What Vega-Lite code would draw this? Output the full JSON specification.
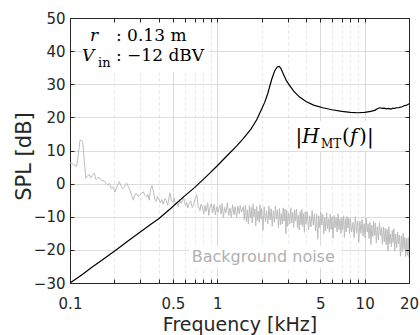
{
"$schema":"https://vega.github.io/schema/vega-lite/v6.json",
"width":339,"height":265,
"autosize":{"type":"none"},
"padding":{"left":70,"top":18,"right":11,"bottom":52},
"background":"white",
"config":{"view":{"stroke":"#262626","strokeWidth":1},"font":"DejaVu Sans"},
"datasets":{
"hmt":[{"f":0.1,"v":-30},{"f":0.12,"v":-27.6},{"f":0.14,"v":-25.3},{"f":0.16,"v":-23.5},{"f":0.2,"v":-20.4},{"f":0.25,"v":-17.2},{"f":0.3,"v":-14.6},{"f":0.35,"v":-12.4},{"f":0.4,"v":-10.6},{"f":0.48,"v":-7.6},{"f":0.59,"v":-4.0},{"f":0.7,"v":-1.2},{"f":0.8,"v":1.2},{"f":0.9,"v":3.4},{"f":1.0,"v":5.4},{"f":1.15,"v":8.2},{"f":1.35,"v":11.3},{"f":1.5,"v":13.6},{"f":1.7,"v":16.6},{"f":1.85,"v":19.3},{"f":2.0,"v":22.5},{"f":2.1,"v":24.6},{"f":2.2,"v":27.2},{"f":2.34,"v":31.5},{"f":2.45,"v":34.0},{"f":2.55,"v":35.2},{"f":2.63,"v":35.4},{"f":2.7,"v":34.8},{"f":2.8,"v":33.2},{"f":2.95,"v":31.0},{"f":3.1,"v":29.6},{"f":3.3,"v":27.9},{"f":3.6,"v":26.2},{"f":4.0,"v":24.8},{"f":4.5,"v":23.7},{"f":5.2,"v":22.9},{"f":6.0,"v":22.3},{"f":7.0,"v":21.8},{"f":8.0,"v":21.5},{"f":9.0,"v":21.4},{"f":10.0,"v":21.5},{"f":11.0,"v":21.8},{"f":11.8,"v":22.2},{"f":12.2,"v":22.6},{"f":12.6,"v":22.9},{"f":13.2,"v":22.7},{"f":13.6,"v":22.8},{"f":14.0,"v":22.6},{"f":14.5,"v":22.7},{"f":15.0,"v":22.5},{"f":15.5,"v":22.7},{"f":16.0,"v":22.7},{"f":16.5,"v":22.9},{"f":17.0,"v":22.9},{"f":17.5,"v":23.1},{"f":18.0,"v":23.2},{"f":18.5,"v":23.5},{"f":19.0,"v":23.6},{"f":19.5,"v":23.8},{"f":20.0,"v":24.1}],
"noise":[{"f":0.1,"v":6.3},{"f":0.104,"v":5.9},{"f":0.108,"v":5.5},{"f":0.111,"v":5.2},{"f":0.114,"v":9},{"f":0.117,"v":13.2},{"f":0.12,"v":13.0},{"f":0.122,"v":12.6},{"f":0.125,"v":7},{"f":0.128,"v":1.6},{"f":0.131,"v":2.2},{"f":0.135,"v":2.8},{"f":0.138,"v":1.7},{"f":0.142,"v":2.5},{"f":0.146,"v":3.2},{"f":0.15,"v":1.2},{"f":0.155,"v":1.9},{"f":0.16,"v":1.6},{"f":0.165,"v":0.8},{"f":0.17,"v":0.9},{"f":0.175,"v":0.2},{"f":0.18,"v":-0.5},{"f":0.185,"v":0.1},{"f":0.19,"v":-1.4},{"f":0.196,"v":-1.0},{"f":0.202,"v":-2.5},{"f":0.208,"v":-1.0},{"f":0.216,"v":0.6},{"f":0.222,"v":-0.8},{"f":0.228,"v":-1.6},{"f":0.236,"v":-0.6},{"f":0.243,"v":0.1},{"f":0.25,"v":-1.2},{"f":0.255,"v":-2.0},{"f":0.262,"v":-3.5},{"f":0.269,"v":-5.0},{"f":0.276,"v":-3.2},{"f":0.282,"v":-3.0},{"f":0.29,"v":-3.8},{"f":0.3,"v":-3.4},{"f":0.308,"v":-2.8},{"f":0.315,"v":-2.5},{"f":0.323,"v":-3.6},{"f":0.332,"v":-4.0},{"f":0.338,"v":-3.2},{"f":0.345,"v":-5.0},{"f":0.352,"v":-1.8},{"f":0.36,"v":-0.6},{"f":0.368,"v":-2.2},{"f":0.376,"v":-4.6},{"f":0.385,"v":-5.4},{"f":0.393,"v":-3.8},{"f":0.4,"v":-4.6},{"f":0.41,"v":-5.8},{"f":0.42,"v":-4.8},{"f":0.43,"v":-6.2},{"f":0.44,"v":-4.5},{"f":0.45,"v":-5.0},{"f":0.46,"v":-6.5},{"f":0.477,"v":-2.8},{"f":0.488,"v":-5.2},{"f":0.5,"v":-5.6},{"f":0.51,"v":-4.4},{"f":0.52,"v":-6.4},{"f":0.53,"v":-5.6},{"f":0.542,"v":-7.0},{"f":0.555,"v":-4.8},{"f":0.567,"v":-6.0},{"f":0.578,"v":-5.2},{"f":0.588,"v":-3.8},{"f":0.6,"v":-5.8},{"f":0.61,"v":-6.6},{"f":0.619,"v":-5.6},{"f":0.63,"v":-7.4},{"f":0.645,"v":-6.0},{"f":0.66,"v":-5.2},{"f":0.675,"v":-7.2},{"f":0.69,"v":-6.4},{"f":0.705,"v":-4.6},{"f":0.725,"v":-3.4},{"f":0.74,"v":-6.6},{"f":0.762,"v":-8.2},{"f":0.775,"v":-6.2},{"f":0.79,"v":-7.0},{"f":0.81,"v":-9.2},{"f":0.825,"v":-6.6},{"f":0.84,"v":-8.4},{"f":0.86,"v":-5.8},{"f":0.875,"v":-9.6},{"f":0.89,"v":-7.4},{"f":0.91,"v":-6.0},{"f":0.93,"v":-8.8},{"f":0.95,"v":-6.2},{"f":0.97,"v":-9.4},{"f":0.99,"v":-7.0},{"f":1.01,"v":-8.6},{"f":1.04,"v":-6.4},{"f":1.06,"v":-9.2},{"f":1.08,"v":-6.0},{"f":1.1,"v":-10.4},{"f":1.12,"v":-7.2},{"f":1.145,"v":-8.8},{"f":1.17,"v":-5.8},{"f":1.195,"v":-9.6},{"f":1.22,"v":-7.4},{"f":1.245,"v":-10.2},{"f":1.27,"v":-6.4},{"f":1.3,"v":-9.4},{"f":1.32,"v":-7.0},{"f":1.35,"v":-10.0},{"f":1.38,"v":-6.8},{"f":1.41,"v":-9.2},{"f":1.43,"v":-6.6},{"f":1.46,"v":-8.6},
{"f":1.5,"v":-7.0},{"f":1.525,"v":-10.9},{"f":1.55,"v":-6.5},{"f":1.575,"v":-11.5},{"f":1.6,"v":-7.9},{"f":1.625,"v":-12.2},{"f":1.65,"v":-6.7},{"f":1.675,"v":-10.3},{"f":1.7,"v":-7.2},{"f":1.725,"v":-11.9},{"f":1.75,"v":-6.2},{"f":1.775,"v":-10.0},{"f":1.8,"v":-7.6},{"f":1.825,"v":-12.7},{"f":1.85,"v":-6.9},{"f":1.875,"v":-11.1},{"f":1.9,"v":-8.3},{"f":1.925,"v":-11.7},{"f":1.95,"v":-6.4},{"f":1.975,"v":-10.6},
{"f":2.0,"v":-7.5},{"f":2.04,"v":-14.1},{"f":2.08,"v":-7.0},{"f":2.12,"v":-11.5},{"f":2.16,"v":-8.2},{"f":2.2,"v":-12.2},{"f":2.24,"v":-6.8},{"f":2.28,"v":-10.9},{"f":2.32,"v":-7.6},{"f":2.36,"v":-12.9},{"f":2.4,"v":-8.2},{"f":2.44,"v":-11.7},{"f":2.48,"v":-6.8},{"f":2.52,"v":-10.6},{"f":2.56,"v":-7.9},{"f":2.6,"v":-13.4},{"f":2.64,"v":-7.5},{"f":2.68,"v":-12.4},{"f":2.72,"v":-9.0},{"f":2.76,"v":-12.2},{"f":2.8,"v":-7.3},{"f":2.84,"v":-11.3},{"f":2.88,"v":-7.7},{"f":2.92,"v":-15.1},{"f":2.96,"v":-8.0},
{"f":3.0,"v":-12.9},{"f":3.05,"v":-8.9},{"f":3.1,"v":-12.2},{"f":3.15,"v":-7.3},{"f":3.2,"v":-11.9},{"f":3.25,"v":-8.6},{"f":3.3,"v":-13.2},{"f":3.35,"v":-7.9},{"f":3.4,"v":-11.3},{"f":3.45,"v":-7.7},{"f":3.5,"v":-13.3},{"f":3.55,"v":-9.5},{"f":3.6,"v":-14.0},{"f":3.65,"v":-8.4},{"f":3.7,"v":-12.4},{"f":3.75,"v":-7.8},{"f":3.8,"v":-12.9},{"f":3.85,"v":-9.0},{"f":3.9,"v":-14.7},{"f":3.95,"v":-8.5},
{"f":4.0,"v":-12.2},{"f":4.08,"v":-8.5},{"f":4.16,"v":-14.0},{"f":4.24,"v":-9.7},{"f":4.32,"v":-13.1},{"f":4.4,"v":-8.1},{"f":4.48,"v":-12.5},{"f":4.56,"v":-9.1},{"f":4.64,"v":-14.2},{"f":4.72,"v":-9.1},{"f":4.8,"v":-16.8},{"f":4.88,"v":-9.7},{"f":4.96,"v":-13.3},{"f":5.04,"v":-8.7},{"f":5.12,"v":-12.5},{"f":5.2,"v":-9.3},{"f":5.28,"v":-15.1},{"f":5.36,"v":-10.3},{"f":5.44,"v":-14.3},{"f":5.52,"v":-8.8},{"f":5.6,"v":-13.5},{"f":5.68,"v":-10.6},{"f":5.76,"v":-14.7},{"f":5.84,"v":-9.2},{"f":5.92,"v":-13.8},
{"f":6.0,"v":-10.0},{"f":6.1,"v":-16.5},{"f":6.2,"v":-9.6},{"f":6.3,"v":-13.3},{"f":6.4,"v":-10.3},{"f":6.5,"v":-14.6},{"f":6.6,"v":-9.1},{"f":6.7,"v":-13.9},{"f":6.8,"v":-10.6},{"f":6.9,"v":-15.1},{"f":7.0,"v":-10.2},{"f":7.1,"v":-13.8},{"f":7.2,"v":-9.7},{"f":7.3,"v":-16.2},{"f":7.4,"v":-10.6},{"f":7.5,"v":-14.6},{"f":7.6,"v":-9.9},{"f":7.7,"v":-13.4},{"f":7.8,"v":-10.5},{"f":7.9,"v":-15.1},
{"f":8.0,"v":-10.5},{"f":8.16,"v":-14.6},{"f":8.32,"v":-11.7},{"f":8.48,"v":-16.3},{"f":8.64,"v":-10.0},{"f":8.8,"v":-14.9},{"f":8.96,"v":-11.2},{"f":9.12,"v":-17.7},{"f":9.28,"v":-11.3},{"f":9.44,"v":-15.0},{"f":9.6,"v":-10.8},{"f":9.76,"v":-15.8},{"f":9.92,"v":-12.1},{"f":10.08,"v":-16.4},{"f":10.24,"v":-10.4},{"f":10.4,"v":-14.6},{"f":10.56,"v":-12.1},{"f":10.72,"v":-16.6},{"f":10.88,"v":-11.7},{"f":11.04,"v":-18.4},{"f":11.2,"v":-12.6},{"f":11.36,"v":-16.0},{"f":11.52,"v":-11.4},{"f":11.68,"v":-15.6},{"f":11.84,"v":-11.9},
{"f":12.0,"v":-17.9},{"f":12.2,"v":-13.0},{"f":12.4,"v":-17.0},{"f":12.6,"v":-11.8},{"f":12.8,"v":-15.6},{"f":13.0,"v":-13.3},{"f":13.2,"v":-18.3},{"f":13.4,"v":-13.1},{"f":13.6,"v":-17.6},{"f":13.8,"v":-13.5},{"f":14.0,"v":-18.4},{"f":14.2,"v":-13.8},{"f":14.4,"v":-20.4},{"f":14.6,"v":-13.0},{"f":14.8,"v":-18.1},{"f":15.0,"v":-15.2},{"f":15.2,"v":-19.0},{"f":15.4,"v":-14.1},{"f":15.6,"v":-17.8},{"f":15.8,"v":-13.6},
{"f":16.0,"v":-20.4},{"f":16.25,"v":-15.2},{"f":16.5,"v":-19.3},{"f":16.75,"v":-14.6},{"f":17.0,"v":-18.2},{"f":17.25,"v":-15.5},{"f":17.5,"v":-21.9},{"f":17.75,"v":-15.8},{"f":18.0,"v":-20.5},{"f":18.25,"v":-15.0},{"f":18.5,"v":-19.8},{"f":18.75,"v":-16.3},{"f":19.0,"v":-22.0},{"f":19.25,"v":-16.6},{"f":19.5,"v":-21.6},{"f":19.75,"v":-16.3},{"f":20.0,"v":-22.3}],
"boxes":[{"f":0.1225,"f2":0.878,"v":49.6,"v2":33.8},{"f":3.16,"f2":11.2,"v":18.9,"v2":9.85},{"f":0.642,"f2":6.92,"v":-18.8,"v2":-25.5}],
"it17":[{"t":"r","f":0.1367,"v":43.18},{"t":"V","f":0.1206,"v":37.14}],
"rm17":[{"t":": 0.13 m","f":0.2052,"v":43.18},{"t":": −12 dBV","f":0.2052,"v":37.14}],
"sub13":[{"t":"in","f":0.1549,"v":35.2}],
"it20":[{"t":"H","f":3.76,"v":12.3},{"t":"f","f":7.96,"v":12.3}],
"rm20":[{"t":"|","f":3.39,"v":12.3},{"t":"(","f":7.02,"v":12.3},{"t":")","f":9.16,"v":12.3},{"t":"|","f":10.38,"v":12.3}],
"sub12":[{"t":"MT","f":5.06,"v":10.75}],
"bgn":[{"t":"Background noise","f":0.67,"v":-23.75}]
},
"encoding":{
"x":{"field":"f","type":"quantitative","scale":{"type":"log","domain":[0.1,20],"nice":false},"axis":null},
"y":{"field":"v","type":"quantitative","scale":{"domain":[-30,50],"nice":false,"zero":false},"axis":null}
},
"layer":[
{"data":{"name":"boxes"},"mark":{"type":"rect","fill":"white","strokeWidth":0},"encoding":{"x2":{"field":"f2"},"y2":{"field":"v2"}}},
{"data":{"name":"noise"},"mark":{"type":"line","color":"#bdbdbd","strokeWidth":1,"clip":true},
"encoding":{
"x":{"field":"f","type":"quantitative","scale":{"type":"log","domain":[0.1,20],"nice":false},
"axis":{"orient":"top","values":[0.1,0.2,0.3,0.4,0.5,0.6,0.7,0.8,0.9,1,2,3,4,5,6,7,8,9,10,20],"labels":false,"grid":false,"domain":true,"domainColor":"#262626","ticks":true,"tickSize":-4,"tickColor":"#262626","title":null,"zindex":1}},
"y":{"field":"v","type":"quantitative","scale":{"domain":[-30,50],"nice":false,"zero":false},
"axis":{"orient":"right","values":[-30,-20,-10,0,10,20,30,40,50],"labels":false,"grid":false,"domain":true,"domainColor":"#262626","ticks":true,"tickSize":-4,"tickColor":"#262626","title":null,"zindex":1}}}},
{"data":{"name":"hmt"},"mark":{"type":"line","color":"#000000","strokeWidth":1.2,"clip":true},
"encoding":{
"x":{"field":"f","type":"quantitative","scale":{"type":"log","domain":[0.1,20],"nice":false},
"axis":{"orient":"bottom","values":[0.1,0.2,0.3,0.4,0.5,0.6,0.7,0.8,0.9,1,2,3,4,5,6,7,8,9,10,20],
"labelExpr":"indexof([0.1,0.5,1,5,10,20], datum.value) >= 0 ? format(datum.value, '~g') : ''",
"labelOverlap":false,"labelFlush":false,"labelFont":"DejaVu Sans","labelFontSize":15,"labelColor":"#262626","labelPadding":17,
"domain":true,"domainColor":"#262626","ticks":true,"tickSize":-4,"tickColor":"#262626",
"grid":true,
"gridColor":{"condition":{"test":"indexof([0.1,0.5,1,5,10,20], datum.value) >= 0","value":"#d9d9d9"},"value":"#e6e6e6"},
"gridDash":{"condition":{"test":"indexof([0.1,0.5,1,5,10,20], datum.value) >= 0","value":[]},"value":[3,3]},
"title":"Frequency [kHz]","titleFont":"DejaVu Sans","titleFontSize":19,"titleFontWeight":"normal","titleColor":"#262626","titleBaseline":"alphabetic","titleY":47}},
"y":{"field":"v","type":"quantitative","scale":{"domain":[-30,50],"nice":false,"zero":false},
"axis":{"orient":"left","values":[-30,-20,-10,0,10,20,30,40,50],
"labelFont":"DejaVu Sans","labelFontSize":15,"labelColor":"#262626","labelPadding":9,
"domain":true,"domainColor":"#262626","ticks":true,"tickSize":-4,"tickColor":"#262626",
"grid":true,"gridColor":"#dcdcdc",
"title":"SPL [dB]","titleFont":"DejaVu Sans","titleFontSize":21,"titleFontWeight":"normal","titleColor":"#262626","titleBaseline":"alphabetic","titleX":-40,"titleY":138}}}},
{"data":{"name":"it17"},"mark":{"type":"text","font":"DejaVu Serif","fontStyle":"italic","fontSize":17,"align":"left","baseline":"alphabetic","color":"#000000"},"encoding":{"text":{"field":"t"}}},
{"data":{"name":"rm17"},"mark":{"type":"text","font":"DejaVu Serif","fontSize":17,"align":"left","baseline":"alphabetic","color":"#000000"},"encoding":{"text":{"field":"t"}}},
{"data":{"name":"sub13"},"mark":{"type":"text","font":"DejaVu Serif","fontSize":13,"align":"left","baseline":"alphabetic","color":"#000000"},"encoding":{"text":{"field":"t"}}},
{"data":{"name":"it20"},"mark":{"type":"text","font":"DejaVu Serif","fontStyle":"italic","fontSize":20,"align":"left","baseline":"alphabetic","color":"#000000"},"encoding":{"text":{"field":"t"}}},
{"data":{"name":"rm20"},"mark":{"type":"text","font":"DejaVu Serif","fontSize":20,"align":"left","baseline":"alphabetic","color":"#000000"},"encoding":{"text":{"field":"t"}}},
{"data":{"name":"sub12"},"mark":{"type":"text","font":"DejaVu Serif","fontSize":12,"align":"left","baseline":"alphabetic","color":"#000000"},"encoding":{"text":{"field":"t"}}},
{"data":{"name":"bgn"},"mark":{"type":"text","font":"DejaVu Sans","fontSize":16,"align":"left","baseline":"alphabetic","color":"#b0b0b0"},"encoding":{"text":{"field":"t"}}}
],
"resolve":{"axis":{"x":"independent","y":"independent"}}
}
